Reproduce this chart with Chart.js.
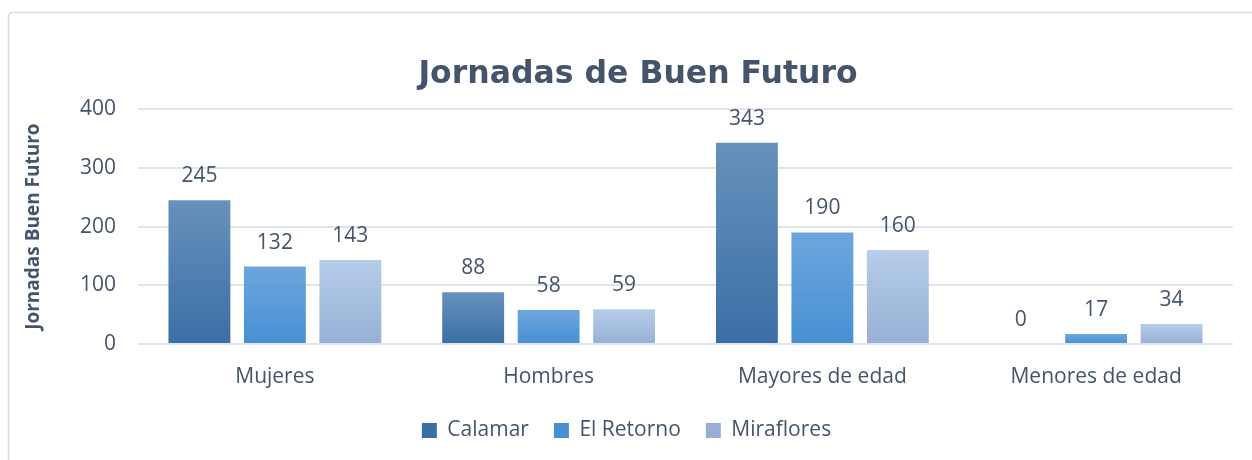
<!DOCTYPE html>
<html>
<head>
<meta charset="utf-8">
<script src="https://cdn.jsdelivr.net/npm/chart.js@4/dist/chart.umd.min.js"></script>
<style>
  body { margin: 0; background: #fff; }
  #wrap { width: 1252px; height: 460px; position: relative; }
</style>
</head>
<body>
<div id="wrap"><canvas id="jornadasChart"></canvas></div>
<script>
// Categories on the x axis
const categories = ['Mujeres', 'Hombres', 'Mayores de edad', 'Menores de edad'];

// Series values
const calamar = [245, 88, 343, 0];
const elRetorno = [132, 58, 190, 17];
const miraflores = [143, 59, 160, 34];

// Y axis ticks
const yTicks = [0, 100, 200, 300, 400];

const textColor = '#44546A';
const chartTitle = 'Jornadas de Buen Futuro';
const titleFont = 'bold 31.5px "DejaVu Sans"';

// Gradient colours per series (top, bottom)
const gradients = [
    ['#6891BC', '#3A6FA5'],
    ['#6EA6DD', '#4690D3'],
    ['#B6CEEA', '#97AFD4']
];

// Build a vertical gradient for each bar, from the bar top down to zero
function barGradient(idx) {
    return function (context) {
        const chart = context.chart;
        if (!chart.chartArea || context.raw === undefined) return gradients[idx][1];
        const y = chart.scales.y;
        const top = y.getPixelForValue(context.raw);
        const bottom = y.getPixelForValue(0);
        if (bottom - top < 1) return gradients[idx][1];
        const g = chart.ctx.createLinearGradient(0, top, 0, bottom);
        g.addColorStop(0, gradients[idx][0]);
        g.addColorStop(1, gradients[idx][1]);
        return g;
    };
}

// Light rounded frame round the whole chart
const framePlugin = {
    id: 'frame',
    beforeDraw(chart) {
        const c = chart.ctx;
        c.save();
        c.strokeStyle = '#D9DDE3';
        c.lineWidth = 1.5;
        c.beginPath();
        c.roundRect(8.5, 12.5, 1260, 470, 4);
        c.stroke();
        c.restore();
    }
};

// Title text: the title plugin only reserves the space, the text is centred on the frame
const titleText = {
    id: 'titleText',
    afterDraw(chart) {
        const tb = chart.titleBlock;
        const c = chart.ctx;
        c.save();
        c.font = titleFont;
        c.fillStyle = textColor;
        c.textAlign = 'center';
        c.textBaseline = 'middle';
        c.fillText(chartTitle, 638, tb.top + 56 + 19);
        c.restore();
    }
};

// Value labels above each bar
const valueLabels = {
    id: 'valueLabels',
    afterDatasetsDraw(chart) {
        const c = chart.ctx;
        c.save();
        c.font = '21px "Open Sans"';
        c.fillStyle = textColor;
        c.textAlign = 'center';
        c.textBaseline = 'middle';
        chart.data.datasets.forEach((ds, i) => {
            chart.getDatasetMeta(i).data.forEach((bar, j) => {
                c.fillText(ds.data[j], bar.x, bar.y - 24);
            });
        });
        c.restore();
    }
};

const seriesNames = ['Calamar', 'El Retorno', 'Miraflores'];
const seriesData = [calamar, elRetorno, miraflores];

new Chart(document.getElementById('jornadasChart').getContext('2d'), {
    type: 'bar',
    data: {
        labels: categories,
        datasets: seriesData.map((d, i) => ({
            label: seriesNames[i],
            data: d,
            backgroundColor: barGradient(i),
            borderWidth: 0,
            categoryPercentage: 0.827,
            barPercentage: 0.82
        }))
    },
    options: {
        responsive: true,
        maintainAspectRatio: false,
        animation: false,
        layout: { padding: { left: 20, right: 19, top: 0, bottom: 9 } },
        plugins: {
            title: {
                display: true,
                text: chartTitle,
                color: 'rgba(0,0,0,0)',
                font: { family: '"DejaVu Sans"', size: 31, weight: 'bold' },
                padding: { top: 56, bottom: 16 }
            },
            legend: {
                position: 'bottom',
                labels: {
                    color: textColor,
                    font: { family: '"Open Sans"', size: 21 },
                    boxWidth: 15,
                    boxHeight: 15,
                    padding: 25,
                    generateLabels(chart) {
                        return chart.data.datasets.map((ds, i) => ({
                            text: ds.label,
                            fillStyle: gradients[i][1],
                            strokeStyle: gradients[i][1],
                            lineWidth: 0,
                            fontColor: textColor,
                            datasetIndex: i
                        }));
                    }
                }
            },
            tooltip: { enabled: false }
        },
        scales: {
            x: {
                grid: { display: false },
                border: { display: false },
                ticks: { color: textColor, font: { family: '"Open Sans"', size: 21 }, padding: 12 },
                afterFit(scale) { scale.height = 51; }
            },
            y: {
                min: 0,
                max: 400,
                afterBuildTicks(scale) { scale.ticks = yTicks.map(v => ({ value: v })); },
                grid: { color: '#E1E5EB', lineWidth: 2, drawTicks: false },
                border: { display: false },
                ticks: { color: textColor, font: { family: '"Open Sans"', size: 21 }, padding: 22 },
                title: {
                    display: true,
                    text: 'Jornadas Buen Futuro',
                    color: textColor,
                    font: { family: '"Open Sans"', size: 19, weight: 'bold' },
                    padding: { top: 2, bottom: 0 }
                },
                afterFit(scale) { scale.width = 118; }
            }
        }
    },
    plugins: [framePlugin, valueLabels, titleText]
});
</script>
</body>
</html>
